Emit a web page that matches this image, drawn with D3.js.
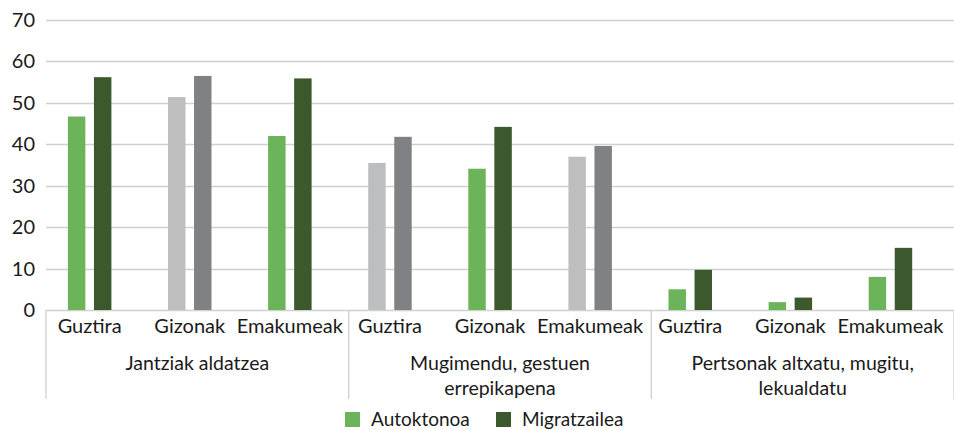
<!DOCTYPE html>
<html>
<head>
<meta charset="utf-8">
<script src="https://cdn.jsdelivr.net/npm/d3@7"></script>
<style>
  body { margin: 0; background: #fff; }
  text { font-family: Lato, "Open Sans", sans-serif; fill: #1a1a1a; }
</style>
</head>
<body>
<svg id="chart"></svg>
<script>
const width = 954;
const height = 430;

// data
const groups = [
  ["Jantziak aldatzea"],
  ["Mugimendu, gestuen", "errepikapena"],
  ["Pertsonak altxatu, mugitu,", "lekualdatu"]
];
const subgroups = ["Guztira", "Gizonak", "Emakumeak"];
const series = ["Autoktonoa", "Migratzailea"];
const autoktonoa = [46.7, 51.4, 42.0, 35.5, 34.1, 37.0, 5.0, 1.9, 8.0];
const migratzailea = [56.2, 56.5, 55.9, 41.8, 44.2, 39.6, 9.7, 3.0, 15.0];
// categories drawn in grey instead of green
const muted = [false, true, false, true, false, true, false, false, false];
const yTicks = [0, 10, 20, 30, 40, 50, 60, 70];

const greens = ["#6cb45a", "#3b592d"];
const greys = ["#bdbec0", "#808184"];

const rows = [];
groups.forEach((g, gi) => {
    subgroups.forEach((s, si) => {
        const i = gi * subgroups.length + si;
        rows.push({ key: i, group: gi, label: s, values: [autoktonoa[i], migratzailea[i]], muted: muted[i] });
    });
});

const svg = d3.select("#chart")
    .attr("width", width)
    .attr("height", height);

const y = d3.scaleLinear().domain([0, 70]).range([310, 20]);

const x = d3.scaleBand()
    .domain(rows.map(d => d.key))
    .range([39.6, 940.5]);

const xInner = d3.scaleBand()
    .domain(series)
    .range([0, 43.5])
    .paddingInner(0.33);

const xGroup = d3.scaleBand()
    .domain(d3.range(groups.length))
    .range([46, 954]);

// gridlines
svg.append("g")
    .selectAll("line")
    .data(yTicks)
    .join("line")
    .attr("x1", 46)
    .attr("x2", width)
    .attr("y1", d => Math.round(y(d)) + 0.5)
    .attr("y2", d => Math.round(y(d)) + 0.5)
    .attr("stroke", "#d0d0d0")
    .attr("stroke-width", 1.3);

// y labels
svg.append("g")
    .selectAll("text")
    .data(yTicks)
    .join("text")
    .attr("x", 35)
    .attr("y", d => y(d))
    .attr("dy", "0.35em")
    .attr("text-anchor", "end")
    .style("font-size", "20px")
    .text(d => d);

// bars
const cat = svg.append("g")
    .selectAll("g")
    .data(rows)
    .join("g")
    .attr("transform", d => `translate(${x(d.key) + x.bandwidth() / 2 - 21.75},0)`);

cat.selectAll("rect")
    .data(d => d.values.map((v, k) => ({ v, k, muted: d.muted })))
    .join("rect")
    .attr("x", d => xInner(series[d.k]))
    .attr("width", xInner.bandwidth())
    .attr("y", d => y(d.v))
    .attr("height", d => y(0) - y(d.v))
    .attr("fill", d => (d.muted ? greys : greens)[d.k]);

// category separators (group boundaries)
const bounds = d3.range(groups.length + 1).map(i => i < groups.length ? xGroup(i) : xGroup.range()[1]);
svg.append("g")
    .selectAll("line")
    .data(bounds)
    .join("line")
    .attr("x1", d => d)
    .attr("x2", d => d)
    .attr("y1", y(0))
    .attr("y2", 399)
    .attr("stroke", "#d0d0d0")
    .attr("stroke-width", 1.3);

// subgroup labels
svg.append("g")
    .selectAll("text")
    .data(rows)
    .join("text")
    .attr("x", d => x(d.key) + x.bandwidth() / 2)
    .attr("y", 333)
    .attr("text-anchor", "middle")
    .style("font-size", "20px")
    .text(d => d.label);

// group labels
svg.append("g")
    .selectAll("text")
    .data(groups)
    .join("text")
    .attr("x", (d, i) => xGroup(i) + xGroup.bandwidth() / 2)
    .attr("y", 370)
    .attr("text-anchor", "middle")
    .style("font-size", "19.5px")
    .selectAll("tspan")
    .data(d => d)
    .join("tspan")
    .attr("x", function () { return d3.select(this.parentNode).attr("x"); })
    .attr("dy", (d, i) => i === 0 ? 0 : 25)
    .text(d => d);

// legend
const legend = svg.append("g");
const legendX = [345, 496];
series.forEach((s, i) => {
    legend.append("rect")
        .attr("x", legendX[i])
        .attr("y", 412)
        .attr("width", 15)
        .attr("height", 15)
        .attr("fill", greens[i]);
    legend.append("text")
        .attr("x", legendX[i] + 26)
        .attr("y", 426)
        .style("font-size", "19px")
        .text(s);
});
</script>
</body>
</html>
